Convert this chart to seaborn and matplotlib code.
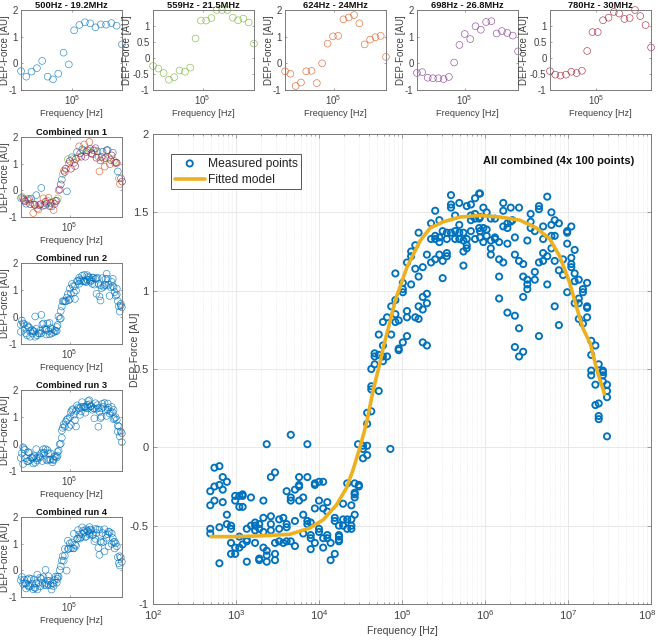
import numpy as np
import pandas as pd
import matplotlib
matplotlib.use("Agg")
import matplotlib.pyplot as plt
from matplotlib.ticker import FixedLocator, NullLocator, NullFormatter, FixedFormatter
from matplotlib.transforms import ScaledTranslation
import seaborn as sns

# ---------- values ----------
panel_titles = ["500Hz - 19.2MHz", "559Hz - 21.5MHz", "624Hz - 24MHz", "698Hz - 26.8MHz", "780Hz - 30MHz"]
panel_colors = ["#0072BD", "#77AC30", "#D95319", "#7E2F8E", "#A2142F"]
panel_logf_1 = [2.70,2.94,3.18,3.42,3.66,3.91,4.15,4.39,4.63,4.87,5.11,5.35,5.60,5.84,6.08,6.32,6.56,6.80,7.04,7.28]
panel_logf_2 = [2.75,2.99,3.23,3.47,3.71,3.95,4.20,4.44,4.68,4.92,5.16,5.40,5.64,5.88,6.12,6.37,6.61,6.85,7.09,7.33]
panel_logf_3 = [2.80,3.04,3.28,3.52,3.76,4.00,4.24,4.48,4.73,4.97,5.21,5.45,5.69,5.93,6.17,6.41,6.66,6.90,7.14,7.38]
panel_logf_4 = [2.84,3.08,3.33,3.57,3.81,4.05,4.29,4.53,4.77,5.01,5.26,5.50,5.74,5.98,6.22,6.46,6.70,6.94,7.19,7.43]
panel_logf_5 = [2.89,3.13,3.37,3.62,3.86,4.10,4.34,4.58,4.82,5.06,5.30,5.55,5.79,6.03,6.27,6.51,6.75,6.99,7.23,7.48]
panel_force_1 = [-0.29,-0.5,-0.31,-0.18,0.09,-0.5,-0.6,-0.39,0.4,-0.04,1.24,1.44,1.54,1.5,1.35,1.46,1.45,1.51,1.41,0.71]
panel_force_2 = [-0.25,-0.33,-0.47,-0.68,-0.6,-0.39,-0.43,-0.3,0.61,1.17,1.17,1.25,1.5,1.5,1.5,1.26,1.18,1.23,1.11,0.45]
panel_force_3 = [-0.3,-0.39,-0.85,-0.72,-0.3,-0.28,-0.74,0,0.74,1.01,1.03,1.65,1.72,1.81,1.5,0.71,0.89,0.98,1.03,0.24]
panel_force_4 = [-0.36,-0.33,-0.54,-0.56,-0.56,-0.59,-0.51,0.03,0.69,1.1,0.91,1.39,1.26,1.55,1.58,1.12,1.21,1.14,1.04,0.45]
panel_force_5 = [-0.41,-0.52,-0.55,-0.52,-0.43,-0.47,-0.4,0.22,0.81,0.81,1.18,1.26,1.44,1.39,1.22,1.25,1.5,1.31,1.03,0.33]

# measured points of the large panel: (log10 frequency, force)
low_points = [
 (2.69,-0.37),(2.69,-0.28),(2.69,-0.52),(2.69,-0.55),(2.74,-0.13),(2.74,-0.25),(2.74,-0.34),(2.80,-0.12),(2.80,-0.24),(2.80,-0.51),(2.80,-0.74),
 (2.84,-0.19),(2.84,-0.27),(2.84,-0.35),(2.89,-0.22),(2.89,-0.43),(2.89,-0.49),(2.94,-0.50),(2.94,-0.52),(2.94,-0.61),(2.94,-0.68),
 (2.99,-0.68),(2.99,-0.64),(2.99,-0.31),(2.99,-0.34),(3.04,-0.57),(3.04,-0.64),(3.04,-0.38),(3.04,-0.31),(3.08,-0.62),(3.08,-0.38),(3.08,-0.31),(3.08,-0.30),
 (3.13,-0.59),(3.13,-0.60),(3.13,-0.52),(3.13,-0.73),(3.18,-0.32),(3.18,-0.50),(3.23,-0.48),(3.23,-0.50),(3.23,-0.53),(3.23,-0.61),
 (3.28,-0.49),(3.28,-0.52),(3.28,-0.71),(3.28,-0.72),(3.33,-0.34),(3.33,-0.64),(3.33,-0.45),(3.33,-0.54),(3.37,0.02),(3.37,-0.66),(3.37,-0.69),(3.37,-0.73),
 (3.42,-0.19),(3.42,-0.44),(3.42,-0.49),(3.42,-0.53),(3.47,-0.16),(3.47,-0.68),(3.47,-0.72),(3.47,-0.61),(3.52,-0.46),(3.52,-0.52),(3.52,-0.60),(3.57,-0.45),(3.57,-0.61),
 (3.61,-0.28),(3.61,-0.49),(3.61,-0.51),(3.61,-0.60),(3.66,-0.32),(3.66,-0.34),(3.66,0.08),(3.66,-0.60),(3.71,-0.63),(3.71,-0.47),(3.71,-0.27),
 (3.76,-0.25),(3.76,-0.24),(3.76,-0.19),(3.76,-0.34),(3.81,-0.32),(3.81,-0.43),(3.81,-0.55),(3.86,-0.19),(3.86,0.02),(3.86,-0.47),(3.86,-0.49),
 (3.90,-0.48),(3.90,-0.56),(3.90,-0.58),(3.90,-0.65),(3.95,-0.24),(3.95,-0.23),(3.95,-0.39),(3.95,-0.61),(4.00,-0.22),(4.00,-0.34),(4.00,-0.52),(4.00,-0.54),
 (4.05,-0.22),(4.05,-0.39),(4.05,-0.58),(4.05,-0.64),(4.10,-0.35),(4.10,-0.41),(4.10,-0.56),(4.10,-0.58),(4.14,-0.61),(4.14,-0.72),(4.19,-0.45),(4.19,-0.68),(4.19,-0.47),
 (4.24,-0.56),(4.24,-0.57),(4.24,-0.60),(4.24,-0.59),(4.24,-0.50),(4.29,-0.36),(4.29,-0.46),(4.29,-0.50),(4.34,-0.23),(4.34,-0.46),(4.34,-0.52),
 (4.39,-0.37),(4.39,-0.46),(4.39,-0.52),(4.39,-0.50),(4.43,-0.43),(4.43,-0.23),(4.43,-0.29),(4.43,-0.32),(4.43,-0.30),(4.48,-0.24),(4.48,-0.25),
 (4.47,0.02),(4.53,0.01),(4.53,-0.01),(4.53,-0.07),(4.58,0.01),(4.58,-0.05),(4.86,-0.01),
]
rise_points = [
 (4.72,0.72),(4.87,0.72),(4.77,0.65),(4.96,0.63),(4.96,0.62),(5.01,0.67),(5.06,0.71),(5.25,0.67),(5.30,0.65),(4.67,0.60),(4.67,0.58),(4.72,0.59),
 (4.82,0.58),(4.77,0.55),(4.67,0.53),(4.63,0.50),(4.63,0.39),(4.63,0.37),(4.72,0.36),(4.58,0.22),(4.63,0.23),(4.58,0.15),(4.77,0.58),
 (5.40,1.51),(5.59,1.55),(5.59,1.53),(5.69,1.56),(5.78,1.54),(5.83,1.55),(5.64,1.48),(5.45,1.45),(5.35,1.43),(5.69,1.42),(5.20,1.37),(5.35,1.33),(5.40,1.35),
 (5.45,1.34),(5.49,1.38),(5.54,1.37),(5.59,1.37),(5.64,1.38),(5.69,1.37),(5.74,1.37),(5.83,1.38),(5.93,1.40),(5.40,1.33),(5.45,1.31),(5.54,1.33),(5.64,1.33),
 (5.69,1.33),(5.74,1.32),(5.78,1.33),(5.88,1.33),(5.78,1.29),(5.78,1.27),(5.74,1.25),(5.16,1.29),(5.11,1.25),(5.11,1.22),(5.06,1.18),(5.30,1.23),(5.54,1.24),
 (5.54,1.22),(5.45,1.23),(5.40,1.20),(5.35,1.18),(5.49,1.19),(5.25,1.15),(5.16,1.14),(5.20,1.09),(5.74,1.16),(5.49,1.08),(4.92,1.11),(5.01,1.05),(5.01,1.01),
 (5.11,1.04),(5.01,0.99),(5.30,0.98),(5.25,0.96),(5.30,0.92),(4.92,0.94),(4.87,0.90),(5.20,0.90),(5.25,0.88),(5.06,0.87),(5.06,0.83),(4.92,0.85),(4.82,0.83),
 (4.77,0.80),(4.92,0.80),(4.96,0.81),(5.16,0.83),(5.20,0.82),(5.83,1.48),(5.88,1.49),(5.93,1.46),(5.83,1.45),(5.88,1.46),(5.59,1.61),(5.88,1.59),
]
fall_points = [
 (5.94,1.62),(5.98,1.53),(6.02,1.50),(5.94,1.47),(6.07,1.46),(6.12,1.46),(6.22,1.56),(6.22,1.51),(6.31,1.53),(6.41,1.53),(6.22,1.41),(6.27,1.40),(6.27,1.43),
 (6.31,1.44),(6.33,1.45),(6.55,1.49),(6.65,1.54),(6.65,1.52),(6.75,1.60),(6.80,1.50),(6.55,1.44),(6.55,1.40),(6.60,1.38),(6.70,1.41),(6.80,1.42),(6.84,1.45),
 (6.89,1.43),(7.04,1.41),(6.99,1.38),(6.99,1.37),(6.84,1.35),(6.80,1.35),(6.70,1.33),(6.51,1.32),(6.36,1.34),(5.98,1.40),(6.02,1.39),(5.94,1.38),(6.02,1.35),
 (6.12,1.34),(6.12,1.33),(6.07,1.32),(6.17,1.31),(5.98,1.31),(5.94,1.34),(6.27,1.30),(6.07,1.27),(6.07,1.23),(6.17,1.20),(6.22,1.18),(6.36,1.23),(6.41,1.19),
 (6.46,1.17),(6.70,1.24),(6.75,1.22),(6.80,1.27),(6.65,1.18),(6.70,1.19),(6.84,1.19),(6.94,1.20),(6.99,1.30),(7.08,1.26),(7.04,1.21),(7.04,1.17),(7.04,1.15),
 (6.60,1.12),(6.89,1.13),(6.94,1.10),(7.08,1.11),(6.46,1.09),(6.17,1.09),(6.51,1.07),(6.60,1.07),(6.51,1.04),(6.51,1.01),(6.75,1.04),(7.08,1.06),(7.13,1.07),
 (7.23,1.05),(7.18,1.01),(7.18,0.99),(6.99,0.99),(6.46,0.96),(6.17,0.95),(7.13,0.95),(7.08,0.92),(7.13,0.92),(6.84,0.90),(7.23,0.90),(7.23,0.89),
 (6.27,0.86),(6.36,0.84),(6.41,0.76),(6.65,0.71),(6.89,0.78),(7.13,0.82),(7.18,0.79),(7.23,0.83),(7.28,0.68),(7.33,0.65),(7.28,0.59),(7.37,0.53),(7.28,0.49),
 (7.28,0.46),(7.42,0.49),(7.42,0.48),(7.42,0.46),(7.33,0.40),(7.42,0.42),(7.47,0.40),(7.47,0.36),(7.47,0.32),(7.33,0.27),(7.37,0.28),(7.37,0.20),(7.37,0.18),
 (7.47,0.07),(6.36,0.64),(6.46,0.61),(6.41,0.58),(5.93,1.62),
]
fit_logf = [2.70,3.00,3.30,3.65,3.89,4.05,4.21,4.33,4.41,4.49,4.55,4.58,4.655,4.735,4.775,4.835,4.92,5.06,5.22,5.34,5.50,5.70,5.94,6.18,6.42,6.62,6.78,6.90,7.02,7.10,7.18,7.27,7.35,7.44]
fit_force = [-0.57,-0.57,-0.565,-0.555,-0.515,-0.463,-0.368,-0.26,-0.144,-0.006,0.11,0.175,0.37,0.54,0.64,0.76,0.94,1.15,1.32,1.40,1.44,1.47,1.48,1.47,1.45,1.40,1.33,1.22,1.05,0.90,0.76,0.66,0.49,0.34]

sns.set_style("white")
plt.rcParams["font.family"] = ["Liberation Sans", "DejaVu Sans"]
plt.rcParams["mathtext.default"] = "regular"
plt.rcParams["axes.unicode_minus"] = False

W, H = 658, 640
TXT = "#404040"
EDGE = "#7a7a7a"
fig = plt.figure(figsize=(W/100, H/100), dpi=100, facecolor="white")

def make_ax(l, t, r, b):
    return fig.add_axes([l/W, 1-b/H, (r-l)/W, (b-t)/H])

def style(ax, fs, tl):
    for s in ax.spines.values():
        s.set_edgecolor(EDGE); s.set_linewidth(0.7)
    ax.tick_params(which="both", direction="in", top=True, right=True, color=EDGE,
                   labelcolor=TXT, labelsize=fs, width=0.5, length=tl, pad=2.5, bottom=True, left=True)
    ax.tick_params(which="minor", length=tl*0.55)

def small(ax, dfs, xlim, ylim, title):
    for logf, force, col in dfs:
        d = pd.DataFrame({"f": 10.0**np.asarray(logf), "y": force})
        sns.scatterplot(data=d, x="f", y="y", ax=ax, marker="o", s=24, facecolors="none",
                        edgecolor=col, linewidth=0.45, alpha=0.85, clip_on=False, legend=False)
    ax.set_xscale("log")
    ax.set_xlim(*xlim); ax.set_ylim(*ylim)
    style(ax, 6.9, 1.6)
    ax.xaxis.set_major_locator(FixedLocator([1e5]))
    ax.xaxis.set_major_formatter(FixedFormatter(["$10^{5}$"]))
    ax.xaxis.set_minor_locator(NullLocator())
    ax.xaxis.set_minor_formatter(NullFormatter())
    if ylim[1] == 2:
        ticks, labs, lab_x = [-1,0,1,2], ["-1","0","1","2"], -0.112
    else:
        ticks, labs, lab_x = [-1,-0.5,0,0.5,1], ["-1","-0.5","0","0.5","1"], -0.205
    ax.set_yticks(ticks); ax.set_yticklabels(labs)
    ax.set_xlabel("Frequency [Hz]", fontsize=6.7, color=TXT, labelpad=1.5)
    ax.set_ylabel("DEP-Force [AU]", fontsize=7.0, color=TXT)
    ax.yaxis.set_label_coords(lab_x, 0.5)
    ax.set_title(title, fontsize=6.7, fontweight="bold", color="#111111", pad=0.8)

# top row
top_boxes = [(21,122),(153,254),(285,386),(417,518),(550,651)]
panel_logf = [panel_logf_1, panel_logf_2, panel_logf_3, panel_logf_4, panel_logf_5]
panel_force = [panel_force_1, panel_force_2, panel_force_3, panel_force_4, panel_force_5]
panel_range = [(500,19.2e6),(559,21.5e6),(624,24e6),(698,26.8e6),(780,30e6)]
panel_ylim = [(-1,2),(-1,1.5),(-1,2),(-1,2),(-1,1.5)]
for i in range(5):
    ax = make_ax(top_boxes[i][0], 10, top_boxes[i][1], 90)
    small(ax, [(panel_logf[i], panel_force[i], panel_colors[i])], panel_range[i], panel_ylim[i], panel_titles[i])

# left column
all_points = low_points + rise_points + fall_points
all_points_sorted = sorted(all_points)
run2 = all_points_sorted[0::3]
run3 = all_points_sorted[1::3]
run4 = all_points_sorted[2::3]
left_boxes = [(137,217),(263,344),(390,471),(517,597)]
run_series = [
    [(panel_logf[i], panel_force[i], panel_colors[i]) for i in range(5)],
    [([p[0] for p in run2], [p[1] for p in run2], panel_colors[0])],
    [([p[0] for p in run3], [p[1] for p in run3], panel_colors[0])],
    [([p[0] for p in run4], [p[1] for p in run4], panel_colors[0])],
]
for i in range(4):
    ax = make_ax(21, left_boxes[i][0], 122, left_boxes[i][1])
    small(ax, run_series[i], (500,30e6), (-1,2), f"Combined run {i+1}")

# main panel
ax = make_ax(153, 134, 651, 604)
main = pd.DataFrame({"f": 10.0**np.array([p[0] for p in all_points]), "y": [p[1] for p in all_points]})
fit = pd.DataFrame({"f": 10.0**np.array(fit_logf), "y": fit_force})
sns.scatterplot(data=main, x="f", y="y", ax=ax, marker="o", s=20, facecolors="none",
                edgecolor="#0072BD", linewidth=1.35, label="Measured points", zorder=3)
sns.lineplot(data=fit, x="f", y="y", ax=ax, color="#EDB120", linewidth=2.6, label="Fitted model", zorder=4, errorbar=None, sort=False)
ax.set_xscale("log")
ax.set_xlim(1e2, 1e8); ax.set_ylim(-1, 2)
style(ax, 8.0, 3)
ax.tick_params(pad=3)
ax.set_xticks([10.0**k for k in range(2, 9)])
ax.set_xticklabels([f"$10^{{{k}}}$" for k in range(2, 9)])
last = ax.get_xticklabels()[-1]
last.set_transform(last.get_transform() + ScaledTranslation(-4/100, 0, fig.dpi_scale_trans))
ax.set_yticks([-1,-0.5,0,0.5,1,1.5,2]); ax.set_yticklabels(["-1","-0.5","0","0.5","1","1.5","2"])
ax.grid(True, which="major", color="#e8e8e8", linewidth=0.7)
ax.grid(True, which="minor", axis="x", color="#e4e4e4", linewidth=0.5, linestyle=":")
ax.set_axisbelow(True)
ax.set_xlabel("Frequency [Hz]", fontsize=7.5, color=TXT, labelpad=3)
ax.set_ylabel("DEP-Force [AU]", fontsize=7.5, color=TXT)
ax.yaxis.set_label_coords(-0.026, 0.54)
ax.text(0.967, 0.943, "All combined (4x 100 points)", transform=ax.transAxes, ha="right", va="center",
        fontsize=8.05, fontweight="bold", color="#111111")
leg = ax.legend(loc="upper left", bbox_to_anchor=(18/498, 1-20/470), fontsize=8.7, frameon=True, fancybox=False,
                edgecolor="#555555", framealpha=1, borderaxespad=0, handlelength=2.5, labelcolor="#222222",
                borderpad=0.3, labelspacing=0.35, handletextpad=0.25)
leg.get_frame().set_linewidth(0.7)

fig.savefig("out.png", dpi=100, facecolor="white")
